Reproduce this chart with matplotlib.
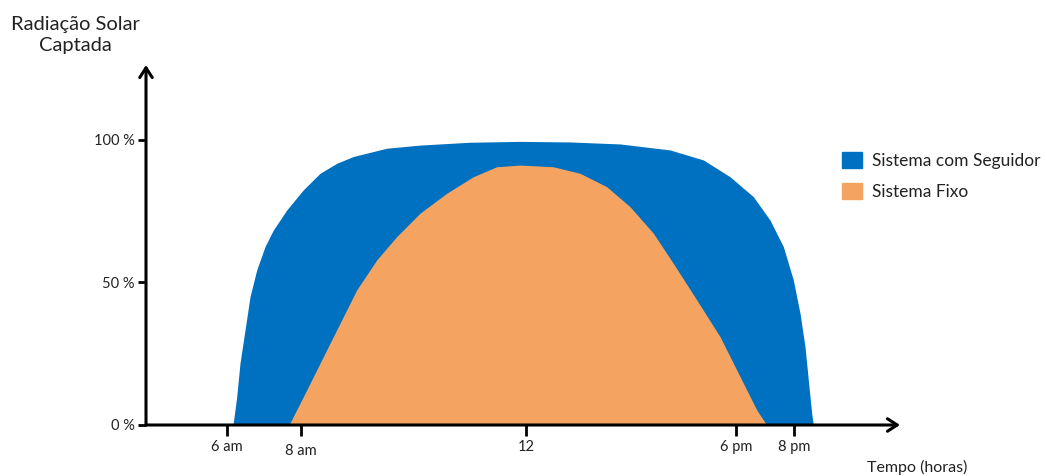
import matplotlib
matplotlib.use('Agg')
import matplotlib.pyplot as plt
from matplotlib.patches import Patch

plt.rcParams['font.family'] = ['Lato', 'DejaVu Sans']

# eixo horizontal esquematico (nao linear em horas)
tick_pos = [81, 155, 380, 590, 648]
tick_labels = ['6 am', '8 am', '12', '6 pm', '8 pm']

# sistema com seguidor
seg_x = [87, 90.7, 94, 99, 104, 110.7, 119, 127.3, 140.7, 157.3, 174, 190.7, 207.3, 240.7, 274,
         324, 374, 424, 474, 524, 557.3, 584, 607.3, 624, 637.3, 647.3, 654, 659, 662.3, 665.7, 667.3]
seg_y = [0, 9.9, 21.7, 33.3, 45, 54.4, 62.6, 68.4, 75.4, 82.5, 88.3, 91.8, 94.2, 97.1, 98.2,
         99.2, 99.5, 99.3, 98.6, 96.5, 93.0, 87.1, 80.1, 71.9, 62.6, 50.9, 39.2, 27.5, 15.8, 4.1, 0]

# sistema fixo
fixo_x = [143, 160.7, 177.3, 194, 210.7, 230.7, 250.7, 274, 300.7, 327.3, 350.7, 374, 407.3,
          434, 460.7, 484, 507.3, 527.3, 550.7, 574, 594, 610.7, 620.7]
fixo_y = [0, 12.3, 24.0, 35.7, 47.4, 57.9, 66.1, 74.3, 81.3, 87.1, 90.6, 91.2, 90.6,
          88.3, 83.6, 76.6, 67.3, 56.7, 43.9, 31.0, 17.0, 5.3, 0]

azul = '#0070C0'
laranja = '#F4A460'

fig = plt.figure(figsize=(10.47, 4.76), dpi=100)
ax = fig.add_axes([146/1047, 51/476, 754/1047, 360/476])
ax.set_xlim(0, 754)
ax.set_ylim(0, 126.3)

ax.fill_between(seg_x, seg_y, 0, color=azul, lw=0)
ax.fill_between(fixo_x, fixo_y, 0, color=laranja, lw=0)

for s in ax.spines.values():
    s.set_visible(False)

# eixos com seta
seta = dict(arrowstyle='->,head_length=0.7,head_width=0.45', lw=2.2, color='black',
            shrinkA=0, shrinkB=0)
ax.annotate('', xy=(0, 126.3), xytext=(0, 0), arrowprops=seta, annotation_clip=False)
ax.annotate('', xy=(754, 0), xytext=(0, 0), arrowprops=seta, annotation_clip=False)

ax.set_yticks([0, 50, 100])
ax.set_yticklabels(['0 %', '50 %', '100 %'], fontsize=10.5, color='#222222')
ax.tick_params(axis='y', length=6, width=2, pad=2)
ax.set_xticks(tick_pos)
ax.set_xticklabels(tick_labels, fontsize=10.5, color='#222222')
ax.tick_params(axis='x', length=8, width=2, pad=3)
ax.get_xticklabels()[1].set_y(-0.01)

fig.text(75/1047, 1 - 35/476, 'Radiação Solar\nCaptada', ha='center', va='center',
         fontsize=14.5, linespacing=1.3, color='#222222')
fig.text(917/1047, 1 - 467/476, 'Tempo (horas)', ha='center', va='center',
         fontsize=11.5, color='#222222')

handles = [Patch(color=azul, label='Sistema com Seguidor'),
           Patch(color=laranja, label='Sistema Fixo')]
fig.legend(handles=handles, loc='upper left', bbox_to_anchor=(826/1047, 1 - 136/476),
           frameon=False, fontsize=12.5, handlelength=1.2, handleheight=1.05,
           handletextpad=0.55, labelspacing=0.85, labelcolor='#222222')

fig.savefig('out.png', dpi=100)
